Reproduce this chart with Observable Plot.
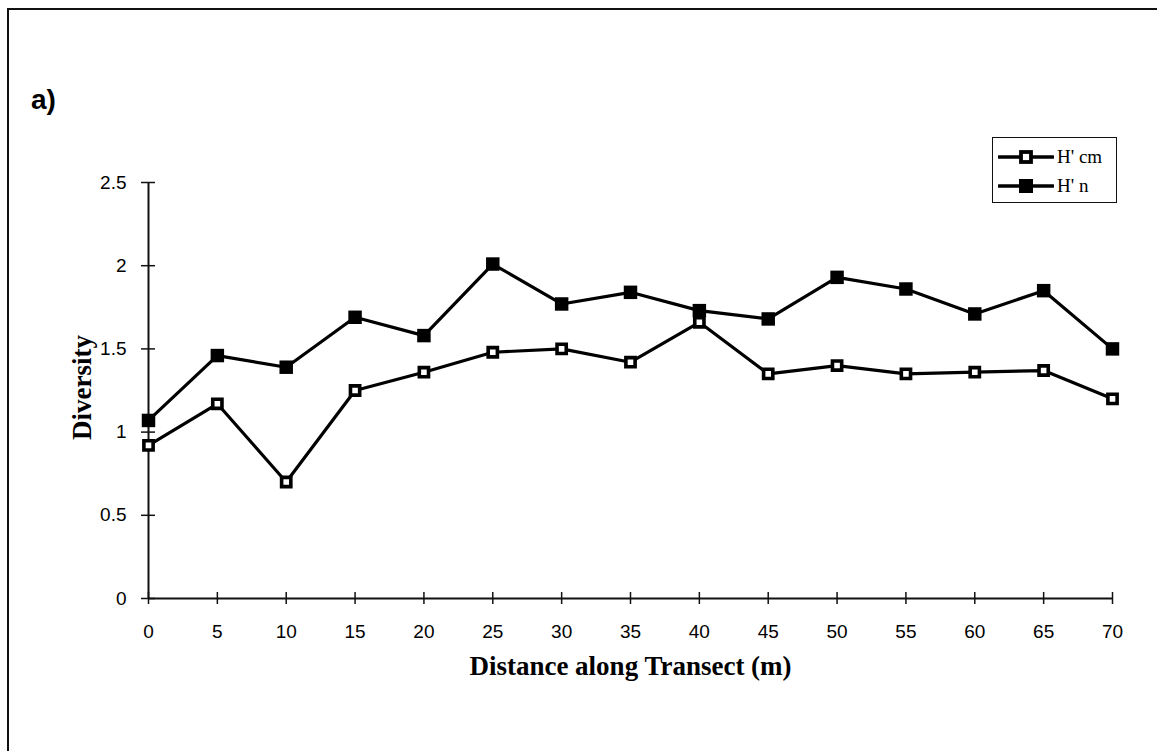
<!DOCTYPE html>
<html>
<head>
<meta charset="utf-8">
<script src="https://cdn.jsdelivr.net/npm/d3@7"></script>
<script src="https://cdn.jsdelivr.net/npm/@observablehq/plot@0.6"></script>
<style>
  html, body { margin: 0; padding: 0; background: #fff; }
  #wrap { position: relative; width: 1157px; height: 751px; overflow: hidden; }
  #frame { position: absolute; left: 7px; top: 8px; width: 1160px; height: 760px;
           border-left: 2px solid #111; border-top: 2px solid #111; }
  #panel { position: absolute; left: 31px; top: 84px; font: bold 28px "Liberation Sans", Arial, sans-serif; color: #000; }
  #legend { position: absolute; left: 992px; top: 137px; width: 125px; height: 66px;
            border: 1.5px solid #111; background: #fff; box-sizing: border-box; padding-top: 4px; }
  .row { display: flex; align-items: center; height: 29px; padding-left: 5px; }
  .row span { font: 19px "Liberation Serif", "Times New Roman", serif; margin-left: 3px; color: #000; }
  #chart { position: absolute; left: 0; top: 0; }
</style>
</head>
<body>
<div id="wrap">
  <div id="chart"></div>
  <div id="frame"></div>
  <div id="panel">a)</div>
  <div id="legend"></div>
</div>
<script>
const distance = [0, 5, 10, 15, 20, 25, 30, 35, 40, 45, 50, 55, 60, 65, 70];
const hcm = [0.92, 1.17, 0.70, 1.25, 1.36, 1.48, 1.50, 1.42, 1.66, 1.35, 1.40, 1.35, 1.36, 1.37, 1.20];
const hn  = [1.07, 1.46, 1.39, 1.69, 1.58, 2.01, 1.77, 1.84, 1.73, 1.68, 1.93, 1.86, 1.71, 1.85, 1.50];
const seriesNames = ["H' cm", "H' n"];
const xTicks = [0, 5, 10, 15, 20, 25, 30, 35, 40, 45, 50, 55, 60, 65, 70];
const yTicks = [0, 0.5, 1, 1.5, 2, 2.5];
const yTickLabels = ["0", "0.5", "1", "1.5", "2", "2.5"];
const xTitle = "Distance along Transect (m)";
const yTitle = "Diversity";

const rowsCm = distance.map((d, i) => ({x: d, y: hcm[i]}));
const rowsN = distance.map((d, i) => ({x: d, y: hn[i]}));

const tickFont = {fontSize: 19, fontFamily: "'Liberation Sans', Arial, sans-serif", fill: "#000"};
const titleFont = {fontSize: 27, fontWeight: "bold", fontFamily: "'Liberation Serif', 'Times New Roman', serif", fill: "#000"};

const chart = Plot.plot({
  width: 1157,
  height: 751,
  marginLeft: 148,
  marginRight: 45,
  marginTop: 182,
  marginBottom: 153,
  style: {background: "transparent", color: "#000", overflow: "visible"},
  x: {domain: [0, 70]},
  y: {domain: [0, 2.5]},
  marks: [
    // crossing tick marks (centered on the axis lines)
    Plot.ruleX(xTicks, {x: d => d, y1: 0, y2: 0, insetTop: -6, insetBottom: -6, stroke: "#111", strokeWidth: 1.5}),
    Plot.ruleY(yTicks, {y: d => d, x1: 0, x2: 0, insetLeft: -7, insetRight: -7, stroke: "#111", strokeWidth: 1.5}),
    Plot.axisX({ticks: xTicks, tickSize: 0, tickPadding: 26, label: null, tickFormat: d => String(d), ...tickFont}),
    Plot.axisY({ticks: yTicks, tickSize: 0, tickPadding: 22, label: null, tickFormat: d => yTickLabels[yTicks.indexOf(d)], ...tickFont}),
    Plot.ruleY([0], {stroke: "#111", strokeWidth: 2}),
    Plot.ruleX([0], {stroke: "#111", strokeWidth: 2}),
    Plot.line(rowsCm, {x: "x", y: "y", stroke: "#000", strokeWidth: 3.2}),
    Plot.line(rowsN, {x: "x", y: "y", stroke: "#000", strokeWidth: 3.2}),
    Plot.dot(rowsCm, {x: "x", y: "y", symbol: "square", r: 5.2, fill: "#fff", stroke: "#000", strokeWidth: 3.6}),
    Plot.dot(rowsN, {x: "x", y: "y", symbol: "square", r: 7.6, fill: "#000", stroke: "none"}),
    Plot.text([xTitle], {frameAnchor: "bottom", dy: 68, lineAnchor: "middle", text: d => d, ...titleFont}),
    Plot.text([yTitle], {frameAnchor: "left", dx: -66, dy: -3, rotate: -90, textAnchor: "middle", lineAnchor: "middle", text: d => d, ...titleFont})
  ]
});
document.getElementById("chart").appendChild(chart);

// legend
const legend = document.getElementById("legend");
seriesNames.forEach((name, i) => {
  const row = document.createElement("div");
  row.className = "row";
  const open = i === 0;
  row.innerHTML = `<svg width="56" height="16" viewBox="0 0 56 16">
    <line x1="1" y1="8" x2="55" y2="8" stroke="#000" stroke-width="3.4" stroke-linecap="round"/>
    ${open
      ? `<rect x="23" y="3" width="10" height="10" fill="#fff" stroke="#000" stroke-width="3.8"/>`
      : `<rect x="21" y="1" width="14" height="14" fill="#000"/>`}
  </svg><span>${name}</span>`;
  legend.appendChild(row);
});
</script>
</body>
</html>
